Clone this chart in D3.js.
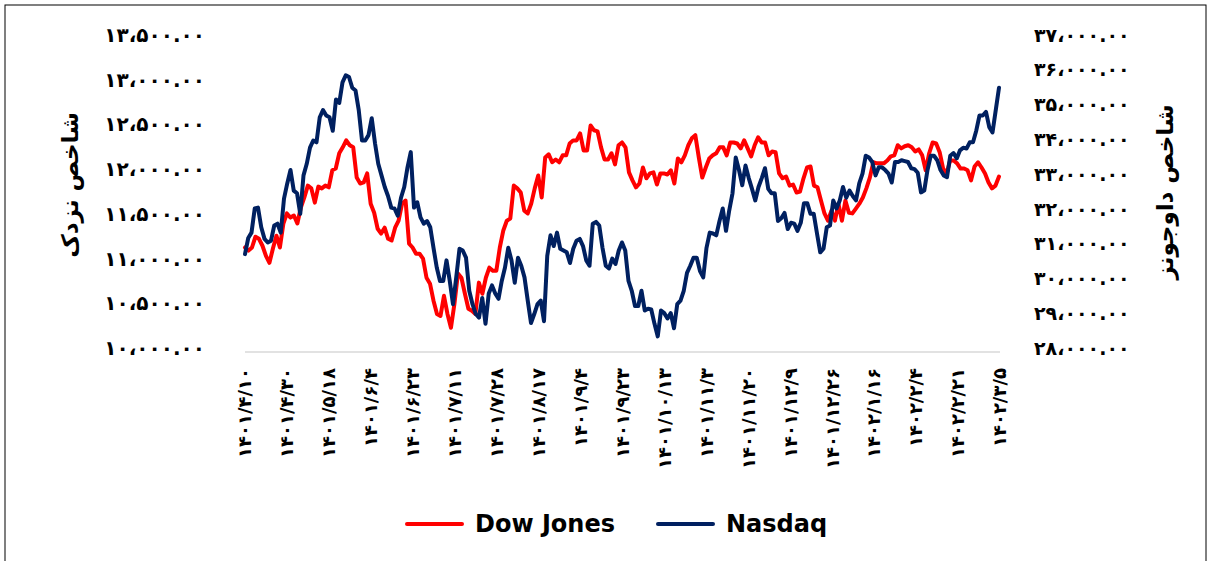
<!DOCTYPE html>
<html>
<head>
<meta charset="utf-8">
<script src="https://cdn.jsdelivr.net/npm/d3@7"></script>
<style>
    body { margin: 0; background: #fff; }
    svg { display: block; }
</style>
</head>
<body>
<svg id="chart" width="1211" height="561"></svg>
<script>
// tick labels on the category axis (every ~14 trading days)
const dateLabels = [
    "۱۴۰۱/۴/۱۰", "۱۴۰۱/۴/۳۰", "۱۴۰۱/۵/۱۸", "۱۴۰۱/۶/۴", "۱۴۰۱/۶/۲۳", "۱۴۰۱/۷/۱۱", "۱۴۰۱/۷/۲۸",
    "۱۴۰۱/۸/۱۷", "۱۴۰۱/۹/۴", "۱۴۰۱/۹/۲۳", "۱۴۰۱/۱۰/۱۳", "۱۴۰۱/۱۱/۳", "۱۴۰۱/۱۱/۲۰", "۱۴۰۱/۱۲/۹",
    "۱۴۰۱/۱۲/۲۶", "۱۴۰۲/۱/۱۶", "۱۴۰۲/۲/۴", "۱۴۰۲/۲/۲۱", "۱۴۰۲/۳/۵"
];

const leftTicks = [10000, 10500, 11000, 11500, 12000, 12500, 13000, 13500];
const rightTicks = [28000, 29000, 30000, 31000, 32000, 33000, 34000, 35000, 36000, 37000];

const leftTitle = "شاخص نزدک";
const rightTitle = "شاخص داوجونز";

// Nasdaq (left axis)
const nasdaq = [
    11050, 11230, 11290, 11560, 11570, 11350, 11220, 11180, 11200, 11370, 11390, 11290, 11670, 11840, 11990, 11760,
    11730, 11500, 11930, 12060, 12240, 12320, 12300, 12580, 12660, 12600, 12580, 12430, 12780, 12740, 12970, 13050,
    13030, 12910, 12880, 12660, 12320, 12320, 12380, 12570, 12290, 12060, 11930, 11800, 11700, 11570, 11560, 11480,
    11680, 11800, 12020, 12190, 11570, 11630, 11460, 11390, 11420, 11350, 11120, 10900, 10750, 10750, 10980, 10750,
    10490, 10790, 11110, 11090, 11010, 10640, 10490, 10380, 10340, 10560, 10270, 10610, 10700, 10610, 10550, 10750,
    10900, 11120, 10980, 10730, 11010, 10920, 10790, 10530, 10280, 10380, 10490, 10530, 10300,
    11030, 11260, 11140, 11290, 11110, 11090, 11070, 10950, 11110, 11200, 11220, 11140, 10980, 10920, 11390, 11410,
    11370, 11120, 10920, 10890, 11000, 10940, 11090, 11180, 11090, 10750, 10640, 10470, 10470, 10640, 10420, 10440,
    10430, 10270, 10130, 10420, 10390, 10330, 10390, 10220, 10490, 10530, 10640, 10840, 10920, 11010,
    11010, 10860, 10790, 11120, 11290, 11280, 11260, 11420, 11560, 11310, 11540, 11730, 12130, 11990, 11820, 12040,
    11900, 11780, 11650, 11800, 11900, 12010, 11780, 11730, 11730, 11420, 11450, 11510, 11330, 11400, 11390, 11310,
    11400, 11620, 11620, 11500, 11500, 11280, 11070, 11110, 11350, 11370, 11650, 11560, 11650, 11800,
    11680, 11760, 11700, 11650, 11840, 11950, 12150, 12130, 12080, 11930, 12020, 12020, 11990, 11950, 11850, 12080,
    12080, 12100, 12090, 12080, 12010, 12000, 11960, 11740, 11760, 11990, 12150, 12150, 12100, 11990, 11930, 11910,
    12150, 12180, 12120, 12210, 12240, 12230, 12300, 12300, 12430, 12600, 12600, 12640, 12470, 12410, 12660, 12910
];

// Dow Jones (right axis)
const dowJones = [
    30890, 30800, 30890, 31200, 31140, 30940, 30650, 30450, 30860, 31230, 30890, 31580, 31870, 31750, 31810, 31580,
    32040, 32330, 32670, 32590, 32180, 32640, 32590, 32670, 32620, 33110, 33160, 33600, 33770, 33970, 33830, 33770,
    32900, 32730, 32760, 33020, 32150, 31890, 31430, 31290, 31460, 31140, 31090,
    31460, 31660, 32150, 32240, 31000, 30890, 30710, 30710, 30570, 30020, 29850, 29360, 28980, 28920, 29500, 28980,
    28580, 29270, 30140, 30020, 29560, 29130, 29070, 28980, 29880, 29560, 30020, 30310, 30220, 30220, 30890, 31380,
    31660, 31720, 32670, 32590, 32470, 31950, 31870, 32150, 32590, 32960, 32330,
    33480, 33570, 33340, 33420, 33340, 33540, 33540, 33880, 33970, 33970, 34170, 33680, 33680, 34400, 34260, 34230,
    33770, 33420, 33420, 33600, 33280, 33830, 33910, 33770, 33050, 32820, 32620, 32730, 33190, 32880, 33020, 33050,
    32700, 33020, 33020, 32990, 33110, 32730, 33450, 33340, 33540, 33830,
    34030, 34120, 33480, 32900, 33190, 33450, 33540, 33600, 33770, 33770, 33540, 33910, 33910, 33880, 33740, 33970,
    33740, 33510, 33830, 34060, 33910, 33910, 33540, 33650, 33630, 33020, 32880, 32930, 32670, 32700, 32470, 32500,
    32880, 33190, 33220, 32670, 32620, 32240, 31870, 31660, 31950, 31660, 32150, 31660, 32240,
    31890, 31870, 32010, 32150, 32330, 32590, 32900, 33340, 33310, 33310, 33310, 33390, 33510, 33540, 33830, 33740,
    33800, 33830, 33770, 33650, 33710, 33540, 33110, 33600, 33910, 33880, 33630, 33160, 33020, 33390, 33390, 33310,
    33160, 33160, 33110, 32820, 33220, 33340, 33190, 33020, 32760, 32590, 32670, 32930
];

const series = [
    { name: "Dow Jones", values: dowJones, color: "#ff0000", axis: "right" },
    { name: "Nasdaq", values: nasdaq, color: "#002060", axis: "left" }
];

const svg = d3.select("#chart");
const faFont = "'DejaVu Sans', sans-serif";
const plot = { left: 245, right: 1000, top: 35, bottom: 348 };

// chart frame
svg.append("rect")
    .attr("x", 5).attr("y", 5)
    .attr("width", 1201).attr("height", 570)
    .attr("fill", "none")
    .attr("stroke", "#000")
    .attr("stroke-width", 1);

const yLeft = d3.scaleLinear().domain([10000, 13500]).range([plot.bottom, plot.top]);
const yRight = d3.scaleLinear().domain([28000, 37000]).range([plot.bottom, plot.top]);
const xTicks = d3.scalePoint().domain(dateLabels).range([plot.left, plot.right]);

const fmt = v => d3.format(",.2f")(v)
    .replace(/,/g, "،")
    .replace(/[0-9]/g, c => "۰۱۲۳۴۵۶۷۸۹"[+c]);

// left axis labels
svg.append("g")
    .selectAll("text")
    .data(leftTicks)
    .enter().append("text")
    .attr("x", 205)
    .attr("y", d => yLeft(d))
    .attr("dy", "0.35em")
    .attr("text-anchor", "end")
    .style("font-family", faFont)
    .style("font-weight", "bold")
    .style("font-size", "20px")
    .text(fmt);

// right axis labels
svg.append("g")
    .selectAll("text")
    .data(rightTicks)
    .enter().append("text")
    .attr("x", 1034)
    .attr("y", d => yRight(d))
    .attr("dy", "0.35em")
    .attr("text-anchor", "start")
    .style("font-family", faFont)
    .style("font-weight", "bold")
    .style("font-size", "19px")
    .text(fmt);

// axis titles
svg.append("text")
    .attr("transform", "translate(70,185) rotate(-90)")
    .attr("text-anchor", "middle")
    .attr("dy", "0.35em")
    .style("font-family", faFont)
    .style("font-weight", "bold")
    .style("font-size", "23px")
    .text(leftTitle);

svg.append("text")
    .attr("transform", "translate(1165,192) rotate(-90)")
    .attr("text-anchor", "middle")
    .attr("dy", "0.35em")
    .style("font-family", faFont)
    .style("font-weight", "bold")
    .style("font-size", "23px")
    .text(rightTitle);

// category axis line
svg.append("line")
    .attr("x1", plot.left).attr("x2", plot.right)
    .attr("y1", plot.bottom + 4).attr("y2", plot.bottom + 4)
    .attr("stroke", "#d9d9d9")
    .attr("stroke-width", 1.5);

svg.append("g")
    .selectAll("text")
    .data(dateLabels)
    .enter().append("text")
    .attr("transform", d => `translate(${xTicks(d)},368) rotate(-90)`)
    .attr("text-anchor", "end")
    .attr("dy", "0.35em")
    .style("font-family", faFont)
    .style("font-weight", "bold")
    .style("font-size", "18px")
    .text(d => d);

// lines, each series spread across the whole category range
series.forEach(s => {
    const x = d3.scaleLinear().domain([0, s.values.length - 1]).range([plot.left, plot.right - 1]);
    const y = s.axis === "left" ? yLeft : yRight;
    const line = d3.line()
        .x((d, i) => x(i))
        .y(d => y(d));
    svg.append("path")
        .datum(s.values)
        .attr("fill", "none")
        .attr("stroke", s.color)
        .attr("stroke-width", 4)
        .attr("stroke-linejoin", "round")
        .attr("stroke-linecap", "round")
        .attr("d", line);
});

// legend
const legend = svg.append("g");
const legendX = [407, 658];
series.forEach((s, i) => {
    legend.append("line")
        .attr("x1", legendX[i]).attr("x2", legendX[i] + 55)
        .attr("y1", 524).attr("y2", 524)
        .attr("stroke", s.color)
        .attr("stroke-width", 4)
        .attr("stroke-linecap", "round");
    legend.append("text")
        .attr("x", legendX[i] + 68)
        .attr("y", 524)
        .attr("dy", "0.35em")
        .style("font-family", "'DejaVu Sans', sans-serif")
        .style("font-weight", "bold")
        .style("font-size", "24px")
        .text(s.name);
});
</script>
</body>
</html>
